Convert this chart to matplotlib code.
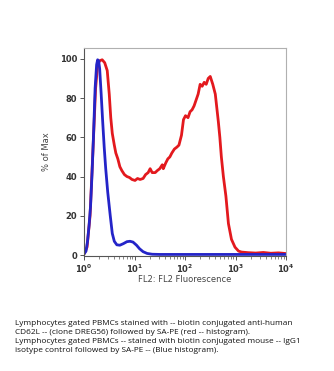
import matplotlib
matplotlib.use("Agg")
import matplotlib.pyplot as plt
import numpy as np

# red histogram: anti-human CD62L (log10 of FL2, % of max)
red_log = [0.0, 0.06, 0.12, 0.18, 0.23, 0.27, 0.31, 0.36, 0.41, 0.46, 0.50, 0.53, 0.56,
           0.60, 0.63, 0.67, 0.71, 0.75, 0.80, 0.85, 0.90, 0.95, 1.01, 1.06, 1.11, 1.17,
           1.22, 1.27, 1.31, 1.35, 1.41, 1.45, 1.50, 1.55, 1.57, 1.62, 1.66, 1.70, 1.74,
           1.79, 1.84, 1.88, 1.93, 1.97, 2.01, 2.06, 2.10, 2.14, 2.18, 2.22, 2.26, 2.30,
           2.34, 2.38, 2.42, 2.46, 2.50, 2.55, 2.60, 2.66, 2.69, 2.72, 2.76, 2.81, 2.86,
           2.92, 2.99, 3.06, 3.12, 3.25, 3.40, 3.55, 3.70, 3.85, 3.98]
red_val = [0.5, 4, 20, 55, 85, 97, 99, 99.5, 98, 94, 82, 70, 62,
           56, 52, 49, 45, 43, 41, 40, 39.5, 38.5, 38, 39, 38.5, 39,
           41, 42, 44, 42, 42, 43, 44, 46, 44, 47, 49, 50, 52,
           54, 55, 56, 61, 69, 71, 70, 73, 74, 76, 79, 82, 87,
           86, 88, 87, 90, 91, 87, 82, 68, 60, 50, 40, 30, 16,
           8, 4, 2, 1.5, 1.2, 1.0, 1.3, 0.9, 1.1, 0.8]

# blue histogram: IgG1 isotype control
blue_log = [0.0, 0.04, 0.07, 0.10, 0.13, 0.16, 0.19, 0.22, 0.25, 0.27, 0.29, 0.31, 0.34,
            0.37, 0.40, 0.43, 0.47, 0.52, 0.56, 0.60, 0.65, 0.71, 0.78, 0.85, 0.91, 0.97,
            1.04, 1.10, 1.17, 1.25, 1.35, 1.50, 2.0, 2.5, 3.0, 3.5, 3.98]
blue_val = [0.5, 2, 7, 15, 25, 42, 62, 85, 97, 99.5, 99, 95, 82,
            68, 55, 44, 32, 20, 11, 7, 5.2, 5.0, 5.8, 6.8, 7.0, 6.6,
            5.0, 3.2, 1.7, 0.8, 0.4, 0.3, 0.3, 0.3, 0.3, 0.3, 0.3]

caption = ("Lymphocytes gated PBMCs stained with -- biotin conjugated anti-human\n"
           "CD62L -- (clone DREG56) followed by SA-PE (red -- histogram).\n"
           "Lymphocytes gated PBMCs -- stained with biotin conjugated mouse -- IgG1\n"
           "isotype control followed by SA-PE -- (Blue histogram).")

fig = plt.figure(figsize=(3.34, 3.71), dpi=100)
ax = fig.add_axes([84 / 334, 1 - 256 / 371, 202 / 334, 208 / 371])

ax.plot(10 ** np.array(red_log), red_val, color="#e3191e", lw=2.0, solid_joinstyle="round")
ax.plot(10 ** np.array(blue_log), blue_val, color="#2424c8", lw=2.0, solid_joinstyle="round")

ax.set_xscale("log")
ax.set_xlim(1, 1e4)
ax.set_ylim(-0.5, 105.5)
ax.set_yticks([0, 20, 40, 60, 80, 100])
ax.set_xticks([1, 10, 100, 1000, 10000])
ax.set_xticklabels([r"$\mathbf{10^0}$", r"$\mathbf{10^1}$", r"$\mathbf{10^2}$",
                    r"$\mathbf{10^3}$", r"$\mathbf{10^4}$"])

for s in ["top", "right"]:
    ax.spines[s].set_color("#b0b0b0")
for s in ["left", "bottom"]:
    ax.spines[s].set_color("#555555")
for s in ax.spines.values():
    s.set_linewidth(0.8)

ax.tick_params(axis="both", which="major", labelsize=6, length=3, width=0.7,
               color="#555555", labelcolor="#333333", pad=2)
ax.tick_params(axis="x", which="minor", length=2, width=0.5, color="#555555")
for lab in ax.get_yticklabels():
    lab.set_fontweight("bold")

ax.set_ylabel("% of Max", fontsize=6, color="#444444", labelpad=6)
ax.set_xlabel("FL2: FL2 Fluorescence", fontsize=6, color="#444444", labelpad=0)

fig.text(15 / 334, 1 - 320 / 371, caption, fontsize=5.95, family="Open Sans",
         va="top", ha="left", linespacing=1.38, color="#111111")

fig.savefig("out.png", dpi=100)
